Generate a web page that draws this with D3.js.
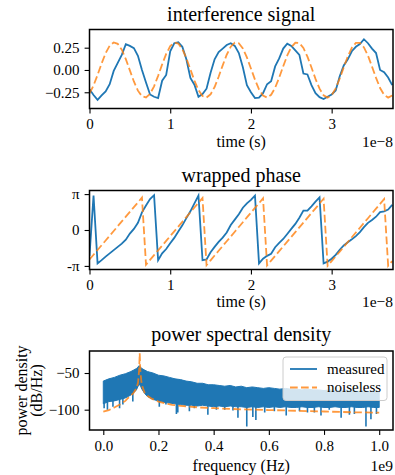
<!DOCTYPE html>
<html>
<head>
<meta charset="utf-8">
<script src="https://cdn.jsdelivr.net/npm/d3@7"></script>
<style>
  html, body { margin: 0; padding: 0; background: #fff; }
  svg { display: block; }
  svg text { font-family: "Liberation Serif", "Times New Roman", serif; fill: #000; }
</style>
</head>
<body>
<svg id="fig" width="395" height="475"></svg>
<script>
// time traces are sampled every 0.05 (units of 1e-8 s)
const timeStep = 0.05;

const signalMeasured = [
  -0.216, -0.28, -0.335, -0.285, -0.24, -0.16, -0.01, 0.08, 0.17, 0.29,
  0.27, 0.245, 0.16, 0.0, -0.14, -0.275, -0.30, -0.315, -0.12, -0.056,
  0.21, 0.30, 0.31, 0.26, 0.12, -0.09, -0.165, -0.30, -0.27, -0.21,
  -0.03, 0.12, 0.20, 0.24, 0.28, 0.30, 0.27, 0.19, 0.03, -0.17,
  -0.25, -0.315, -0.31, -0.26, -0.16, -0.125, 0.04, 0.13, 0.24, 0.295,
  0.27, 0.22, 0.17, -0.04, -0.05, -0.17, -0.26, -0.305, -0.325, -0.30,
  -0.275, -0.23, -0.07, 0.05, 0.12, 0.21, 0.26, 0.29, 0.345, 0.30,
  0.24, 0.19, 0.0, -0.025, -0.085, -0.17
];
const signalNoiseless = [
  -0.263, -0.174, -0.055, 0.073, 0.189, 0.272, 0.309, 0.293, 0.227, 0.122,
  -0.004, -0.129, -0.232, -0.295, -0.308, -0.268, -0.183, -0.066, 0.063, 0.180,
  0.267, 0.308, 0.296, 0.234, 0.132, 0.007, -0.119, -0.225, -0.292, -0.309,
  -0.273, -0.191, -0.076, 0.052, 0.171, 0.261, 0.306, 0.299, 0.241, 0.141,
  0.017, -0.109, -0.218, -0.288, -0.310, -0.278, -0.199, -0.086, 0.042, 0.163,
  0.256, 0.305, 0.302, 0.247, 0.150, 0.028, -0.100, -0.210, -0.284, -0.310,
  -0.283, -0.207, -0.096, 0.031, 0.153, 0.249, 0.303, 0.304, 0.253, 0.160,
  0.038, -0.089, -0.202, -0.280, -0.310, -0.287
];

// wrapped phase, in units of pi
const phaseMeasured = [
  -0.72, 0.96, -0.93, -0.84, -0.74, -0.65, -0.56, -0.47, -0.38, -0.27,
  -0.10, 0.03, 0.20, 0.49, 0.68, 0.86, 0.97, -0.84, -0.65, -0.53,
  -0.37, -0.22, -0.04, 0.13, 0.33, 0.52, 0.74, 0.96, -0.84, -0.82,
  -0.62, -0.47, -0.33, -0.21, -0.07, 0.14, 0.29, 0.44, 0.62, 0.74,
  0.84, 0.96, -0.93, -0.80, -0.72, -0.66, -0.48, -0.36, -0.25, -0.11,
  0.03, 0.17, 0.34, 0.54, 0.54, 0.66, 0.79, 0.91, -0.93, -0.88,
  -0.80, -0.69, -0.55, -0.43, -0.34, -0.26, -0.17, -0.06, 0.08, 0.20,
  0.28, 0.37, 0.50, 0.52, 0.57, 0.70
];
const phaseNoiseless = [
  -0.822, -0.690, -0.557, -0.424, -0.292, -0.159, -0.027, 0.106, 0.239, 0.371,
  0.504, 0.637, 0.769, 0.902, -0.966, -0.833, -0.700, -0.568, -0.435, -0.303,
  -0.170, -0.037, 0.095, 0.228, 0.360, 0.493, 0.626, 0.758, 0.891, -0.977,
  -0.844, -0.711, -0.579, -0.446, -0.313, -0.181, -0.048, 0.084, 0.217, 0.350,
  0.482, 0.615, 0.747, 0.880, -0.987, -0.855, -0.722, -0.590, -0.457, -0.324,
  -0.192, -0.059, 0.074, 0.206, 0.339, 0.471, 0.604, 0.737, 0.870, -0.998,
  -0.866, -0.733, -0.600, -0.468, -0.335, -0.203, -0.070, 0.063, 0.195, 0.328,
  0.461, 0.593, 0.726, 0.859, -0.994, -0.867
];

// power spectral density, frequency in units of 1e9 Hz, values in dB/Hz
const psdFreq = [
  0, 0.02, 0.04, 0.06, 0.08, 0.10, 0.11, 0.12, 0.125, 0.13, 0.135, 0.14, 0.15, 0.16,
  0.18, 0.20, 0.22, 0.24, 0.26, 0.28, 0.30, 0.32, 0.34, 0.36, 0.38, 0.40,
  0.42, 0.44, 0.46, 0.48, 0.50, 0.52, 0.54, 0.56, 0.58, 0.60, 0.62, 0.64,
  0.66, 0.68, 0.70, 0.72, 0.74, 0.76, 0.78, 0.80, 0.82, 0.84, 0.86, 0.88,
  0.90, 0.92, 0.94, 0.96, 0.98, 1.00
];
const psdUpper = [
  -61, -58, -56, -53, -51, -48, -46, -44, -42, -40, -42, -44, -46, -48,
  -50, -53, -54, -56, -58, -59, -61, -62, -64, -64, -66, -66,
  -67, -68, -67, -69, -68, -70, -69, -70, -71, -70, -71, -72,
  -71, -72, -72, -73, -72, -73, -73, -74, -73, -74, -74, -73,
  -74, -75, -74, -75, -74, -75
];
const psdLower = [
  -92, -89, -88, -86, -84, -80, -77, -73, -69, -65, -68, -72, -78, -82,
  -86, -88, -90, -91, -92, -93, -94, -94, -95, -94, -95, -96,
  -95, -96, -95, -96, -96, -97, -96, -97, -96, -97, -96, -97,
  -96, -97, -97, -96, -97, -97, -96, -97, -97, -96, -97, -97,
  -96, -97, -97, -96, -97, -97
];
// deep downward excursions of the measured spectrum [freq, dB]
const psdDips = [
  [0.003, -98], [0.015, -100], [0.035, -96], [0.059, -98], [0.071, -93], [0.107, -89],
  [0.203, -96], [0.227, -93], [0.265, -106], [0.27, -104], [0.312, -102], [0.33, -98],
  [0.379, -107], [0.41, -100], [0.44, -100], [0.47, -101], [0.488, -111], [0.52, -123],
  [0.542, -110], [0.553, -114], [0.585, -104], [0.62, -102], [0.663, -108], [0.711, -102],
  [0.74, -104], [0.765, -104], [0.789, -108], [0.819, -100], [0.862, -111], [0.892, -107],
  [0.91, -106], [0.952, -123], [0.97, -113], [0.99, -106]
];
const noiselessFreq = [
  0, 0.02, 0.04, 0.06, 0.08, 0.09, 0.10, 0.11, 0.12, 0.126, 0.13, 0.132, 0.134, 0.138,
  0.143, 0.15, 0.16, 0.175, 0.2, 0.25, 0.3, 0.35, 0.4, 0.5, 0.6, 0.7, 0.8, 0.9, 1.0
];
const noiselessDb = [
  -102.5, -100.5, -97, -93, -88, -84, -81, -77, -71, -63, -45, -23, -45, -62,
  -70, -77, -81, -85, -89, -93.5, -95.5, -97, -98, -99.5, -100.5, -101.5, -102.5, -103.5, -104
];

const timeTicks = [0, 1, 2, 3];
const signalTicks = [-0.25, 0, 0.25];
const phaseTicks = [-1, 0, 1];
const phaseTickLabels = ['-π', '0', 'π'];
const freqTicks = [0, 0.2, 0.4, 0.6, 0.8, 1.0];
const dbTicks = [-100, -50];

const blue = '#1f77b4';
const orange = '#ff7f0e';
const dash = '7.7,3.3';
const serif = '"Liberation Serif", "Times New Roman", serif';

const svg = d3.select('#fig');
const left = 89.5, right = 393;
const tickLen = 4.9;

function panel(id, top, bottom, xDomain, yDomain) {
  const x = d3.scaleLinear().domain(xDomain).range([left, right]);
  const y = d3.scaleLinear().domain(yDomain).range([bottom, top]);
  svg.append('clipPath').attr('id', id)
    .append('rect').attr('x', left).attr('y', top)
    .attr('width', right - left).attr('height', bottom - top);
  const g = svg.append('g').attr('clip-path', `url(#${id})`);
  return { x, y, g, top, bottom };
}

function frame(p, xTicks, xFormat, yTicks, yFormat) {
  const ax = svg.append('g')
    .attr('transform', `translate(0,${p.bottom})`)
    .call(d3.axisBottom(p.x).tickValues(xTicks).tickFormat(xFormat)
      .tickSize(tickLen).tickPadding(5));
  const ay = svg.append('g')
    .attr('transform', `translate(${left},0)`)
    .call(d3.axisLeft(p.y).tickValues(yTicks).tickFormat(yFormat)
      .tickSize(tickLen).tickPadding(5));
  [ax, ay].forEach(a => {
    a.attr('font-family', serif).attr('font-size', 15);
    a.select('.domain').remove();
    a.selectAll('.tick line').attr('stroke', '#000').attr('stroke-width', 1.1);
    a.selectAll('.tick text').attr('fill', '#000')
      .style('font-family', serif).style('font-size', '15px');
  });
  svg.append('rect')
    .attr('x', left).attr('y', p.top)
    .attr('width', right - left).attr('height', p.bottom - p.top)
    .attr('fill', 'none').attr('stroke', '#000').attr('stroke-width', 1.5);
}

function label(txt, x, y, size, anchor) {
  return svg.append('text').attr('x', x).attr('y', y)
    .attr('text-anchor', anchor || 'middle')
    .style('font-family', serif)
    .style('font-size', size + 'px').text(txt);
}

const mid = (left + right) / 2;

// ---- interference signal
const p1 = panel('c1', 29.5, 108.5, [0, 3.76], [-0.432, 0.454]);
const line1 = d3.line().x((d, i) => p1.x(i * timeStep)).y(d => p1.y(d));
p1.g.append('path').datum(signalMeasured).attr('d', line1)
  .attr('fill', 'none').attr('stroke', blue).attr('stroke-width', 1.8);
p1.g.append('path').datum(signalNoiseless).attr('d', line1)
  .attr('fill', 'none').attr('stroke', orange).attr('stroke-opacity', 0.8)
  .attr('stroke-width', 1.8).attr('stroke-dasharray', dash);
frame(p1, timeTicks, d3.format('d'), signalTicks, d3.format('.2f'));
label('interference signal', mid, 20.5, 20);
label('time (s)', mid, 146.5, 16);
label('1e\u22128', right, 146.5, 15.5, 'end');

// ---- wrapped phase
const p2 = panel('c2', 190.5, 269.5, [0, 3.76], [-1.1, 1.1]);
const line2 = d3.line().x((d, i) => p2.x(i * timeStep)).y(d => p2.y(d));
p2.g.append('path').datum(phaseMeasured).attr('d', line2)
  .attr('fill', 'none').attr('stroke', blue).attr('stroke-width', 1.8);
p2.g.append('path').datum(phaseNoiseless).attr('d', line2)
  .attr('fill', 'none').attr('stroke', orange).attr('stroke-opacity', 0.8)
  .attr('stroke-width', 1.8).attr('stroke-dasharray', dash);
frame(p2, timeTicks, d3.format('d'), phaseTicks, (d, i) => phaseTickLabels[i]);
label('wrapped phase', mid, 181.5, 20);
label('time (s)', mid, 307, 16);
label('1e\u22128', right, 307, 15.5, 'end');

// ---- power spectral density
const p3 = panel('c3', 351, 430, [-0.05, 1.05], [-127.7, -20]);
const band = psdFreq.map((f, i) => ({ f, hi: psdUpper[i], lo: psdLower[i] }));
p3.g.append('path').datum(band)
  .attr('d', d3.area().x(d => p3.x(d.f)).y0(d => p3.y(d.lo)).y1(d => p3.y(d.hi)))
  .attr('fill', blue).attr('stroke', blue).attr('stroke-width', 1);
const lowerAt = d3.scaleLinear().domain(psdFreq).range(psdLower);
p3.g.selectAll('line.dip').data(psdDips).join('line')
  .attr('class', 'dip')
  .attr('x1', d => p3.x(d[0])).attr('x2', d => p3.x(d[0]))
  .attr('y1', d => p3.y(lowerAt(d[0]) + 2)).attr('y2', d => p3.y(d[1]))
  .attr('stroke', blue).attr('stroke-width', 1.6);
p3.g.append('path').datum(noiselessFreq)
  .attr('d', d3.line().x(d => p3.x(d)).y((d, i) => p3.y(noiselessDb[i])))
  .attr('fill', 'none').attr('stroke', orange).attr('stroke-opacity', 0.8)
  .attr('stroke-width', 1.8).attr('stroke-dasharray', dash);
frame(p3, freqTicks, d3.format('.1f'), dbTicks, d3.format('d'));
label('power spectral density', mid, 340.5, 20);
label('frequency (Hz)', mid, 470.5, 16);
label('1e9', right, 470.5, 15.5, 'end');
const cy = (p3.top + p3.bottom) / 2;
label('power density', 0, 0, 16).attr('transform', `translate(26.5,${cy}) rotate(-90)`);
label('(dB/Hz)', 0, 0, 16).attr('transform', `translate(42,${cy}) rotate(-90)`);

// legend
const lg = svg.append('g');
lg.append('rect').attr('x', 283).attr('y', 357).attr('width', 104).attr('height', 43.5)
  .attr('rx', 3).attr('fill', '#fff').attr('fill-opacity', 0.8)
  .attr('stroke', '#ccc').attr('stroke-width', 1);
const entries = [
  { name: 'measured', color: blue, dashed: false, y: 369 },
  { name: 'noiseless', color: orange, dashed: true, y: 387.5 }
];
entries.forEach(e => {
  lg.append('line').attr('x1', 290).attr('x2', 317).attr('y1', e.y).attr('y2', e.y)
    .attr('stroke', e.color).attr('stroke-width', 1.8)
    .attr('stroke-opacity', e.dashed ? 0.8 : 1)
    .attr('stroke-dasharray', e.dashed ? dash : null);
  lg.append('text').attr('x', 327).attr('y', e.y + 4.5)
    .style('font-family', serif).style('font-size', '15px').text(e.name);
});
</script>
</body>
</html>
